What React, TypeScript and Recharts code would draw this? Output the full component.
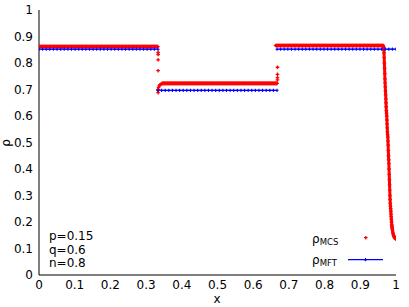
import { ComposedChart, Scatter, Line, XAxis, YAxis } from "recharts";

const W = 409;
const H = 307;

const axisTicks = [0, 0.1, 0.2, 0.3, 0.4, 0.5, 0.6, 0.7, 0.8, 0.9, 1];
const tickLabels = ["0", "0.1", "0.2", "0.3", "0.4", "0.5", "0.6", "0.7", "0.8", "0.9", "1"];

// MCS plateaus: [xStart, xEnd, rho]
const mcsPlateaus = [
  [0, 0.333, 0.862],
  [0.346, 0.667, 0.723],
  [0.663, 0.964, 0.866],
];
const mcsStep = 0.002;

// MCS points off the plateaus (jumps and the right boundary layer): [x, rho]
const mcsJumpLeft = [
  [0.3337, 0.84], [0.3337, 0.832], [0.3337, 0.812], [0.3337, 0.771],
  [0.3337, 0.698], [0.3337, 0.688], [0.3337, 0.70], [0.335, 0.708],
  [0.337, 0.714], [0.339, 0.718], [0.342, 0.721], [0.344, 0.722],
];
const mcsJumpRight = [
  [0.668, 0.736], [0.668, 0.745], [0.668, 0.757], [0.668, 0.784],
];
const mcsBoundary = [
  [0.964, 0.864], [0.965, 0.862], [0.9655, 0.858], [0.966, 0.85], [0.9665, 0.838],
  [0.967, 0.82], [0.9675, 0.8], [0.968, 0.78], [0.9685, 0.76], [0.969, 0.74],
  [0.9695, 0.725], [0.97, 0.71], [0.9705, 0.695], [0.971, 0.68], [0.9715, 0.665],
  [0.972, 0.65], [0.9725, 0.635], [0.973, 0.62], [0.9735, 0.61], [0.974, 0.6],
  [0.9745, 0.585], [0.975, 0.57], [0.9755, 0.555], [0.976, 0.54], [0.9765, 0.53],
  [0.977, 0.52], [0.9775, 0.505], [0.978, 0.49], [0.9785, 0.47], [0.979, 0.45],
  [0.9795, 0.435], [0.98, 0.42], [0.9805, 0.4], [0.981, 0.38], [0.9815, 0.36],
  [0.982, 0.34], [0.9825, 0.32], [0.983, 0.3], [0.9835, 0.285], [0.984, 0.27],
  [0.9845, 0.26], [0.985, 0.25], [0.9855, 0.24], [0.986, 0.23], [0.9865, 0.22],
  [0.987, 0.21], [0.9875, 0.2], [0.988, 0.19], [0.9885, 0.185], [0.989, 0.18],
  [0.9895, 0.175], [0.99, 0.17], [0.991, 0.162], [0.992, 0.155], [0.993, 0.15],
  [0.994, 0.147], [0.995, 0.144], [0.996, 0.141], [0.997, 0.139], [0.998, 0.138],
  [0.999, 0.137], [1.0, 0.136],
];

// MFT segments: [xStart, xEnd, rho]
const mftSegments = [
  [0, 0.3333, 0.852],
  [0.3333, 0.6667, 0.697],
  [0.6667, 1, 0.852],
];
const mftStep = 0.01;

const sample = (x0: number, x1: number, y: number, step: number) => {
  const pts: { x: number; y: number }[] = [];
  const n = Math.round((x1 - x0) / step);
  for (let i = 0; i <= n; i++) pts.push({ x: x0 + ((x1 - x0) * i) / n, y });
  return pts;
};

const toXY = (rows: number[][]) => rows.map(([x, y]) => ({ x, y }));

const mcsData = [
  ...mcsPlateaus.flatMap(([a, b, y]) => sample(a, b, y, mcsStep)),
  ...toXY([...mcsJumpLeft, ...mcsJumpRight, ...mcsBoundary]),
];
const mcsBoundaryData = toXY(mcsBoundary);
const mftData = mftSegments.map(([a, b, y]) => sample(a, b, y, mftStep));

const RED = "#ff0000";
const BLUE = "#0000ff";
const FONT = "DejaVu Sans, sans-serif";

const RedPlus = (p: any) => {
  const { cx, cy } = p;
  return (
    <path
      d={`M${cx - 1.8},${cy}H${cx + 1.8}M${cx},${cy - 1.8}V${cy + 1.8}`}
      stroke={RED}
      strokeWidth={1.3}
    />
  );
};

const BluePlus = (p: any) => {
  const { cx, cy, index } = p;
  return (
    <path
      key={`d${index}`}
      d={`M${cx - 1.6},${cy}H${cx + 1.6}M${cx},${cy - 1.6}V${cy + 1.6}`}
      stroke={BLUE}
      strokeWidth={1.1}
    />
  );
};

const fmt = (v: number) => tickLabels[axisTicks.indexOf(v)] ?? String(v);

export default function App() {
  return (
    <div style={{ position: "absolute", left: 0, top: 0, width: W, height: H, background: "#fff" }}>
      <ComposedChart width={W} height={H} margin={{ top: 10, right: 13, left: 0, bottom: 0 }}>
        <XAxis
          dataKey="x"
          type="number"
          domain={[0, 1]}
          ticks={axisTicks}
          tickFormatter={fmt}
          tickLine={false}
          tickSize={0}
          tickMargin={5}
          height={32}
          axisLine={{ stroke: "#000" }}
          tick={{ fill: "#000", fontSize: 12, fontFamily: FONT }}
          allowDataOverflow
        />
        <YAxis
          type="number"
          domain={[0, 1]}
          ticks={axisTicks}
          tickFormatter={fmt}
          tickLine={false}
          tickSize={0}
          tickMargin={6}
          width={39}
          axisLine={{ stroke: "#000" }}
          tick={{ fill: "#000", fontSize: 12, fontFamily: FONT }}
          allowDataOverflow
        />
        <XAxis xAxisId="tb" type="number" dataKey="x" domain={[0, 1]} ticks={axisTicks} mirror height={0}
          tick={false} tickSize={5} tickLine={{ stroke: "#000" }} axisLine={false} />
        <XAxis xAxisId="tt" orientation="top" type="number" dataKey="x" domain={[0, 1]} ticks={axisTicks} mirror height={0}
          tick={false} tickSize={5} tickLine={{ stroke: "#000" }} axisLine={{ stroke: "#000" }} />
        <YAxis yAxisId="tl" type="number" domain={[0, 1]} ticks={axisTicks} mirror width={0}
          tick={false} tickSize={5} tickLine={{ stroke: "#000" }} axisLine={false} />
        <YAxis yAxisId="tr" orientation="right" type="number" domain={[0, 1]} ticks={axisTicks} mirror width={0}
          tick={false} tickSize={5} tickLine={{ stroke: "#000" }} axisLine={{ stroke: "#000" }} />
        <Scatter data={mcsData} dataKey="y" shape={RedPlus} isAnimationActive={false} />
        <Line
          data={mcsBoundaryData}
          dataKey="y"
          stroke={RED}
          strokeWidth={3}
          dot={false}
          activeDot={false}
          isAnimationActive={false}
        />
        {mftData.map((seg, i) => (
          <Line
            key={i}
            data={seg}
            dataKey="y"
            stroke={BLUE}
            strokeWidth={1.3}
            dot={BluePlus}
            activeDot={false}
            isAnimationActive={false}
          />
        ))}
      </ComposedChart>
      <svg
        width={W}
        height={H}
        style={{ position: "absolute", left: 0, top: 0, pointerEvents: "none" }}
        fontFamily={FONT}
      >
        <text x={217} y={303} fontSize={12} textAnchor="middle">x</text>
        <text x={0} y={0} fontSize={12} textAnchor="middle" transform="translate(10,143) rotate(-90)">ρ</text>
        <text x={49} y={240} fontSize={12}>p=0.15</text>
        <text x={49} y={254} fontSize={12}>q=0.6</text>
        <text x={49} y={267} fontSize={12}>n=0.8</text>
        <text x={312} y={243} fontSize={12}>
          ρ<tspan fontSize={8.5} dy={1.5}>MCS</tspan>
        </text>
        <text x={312} y={264} fontSize={12}>
          ρ<tspan fontSize={8.5} dy={1.5}>MFT</tspan>
        </text>
        <path d="M364,237.7H367.6M365.8,235.9V239.5" stroke={RED} strokeWidth={1.3} />
        <line x1={348} y1={259.7} x2={383} y2={259.7} stroke={BLUE} strokeWidth={1.3} />
        <path d="M363.9,259.7H367.1M365.5,258.1V261.3" stroke={BLUE} strokeWidth={1.1} />
      </svg>
    </div>
  );
}
